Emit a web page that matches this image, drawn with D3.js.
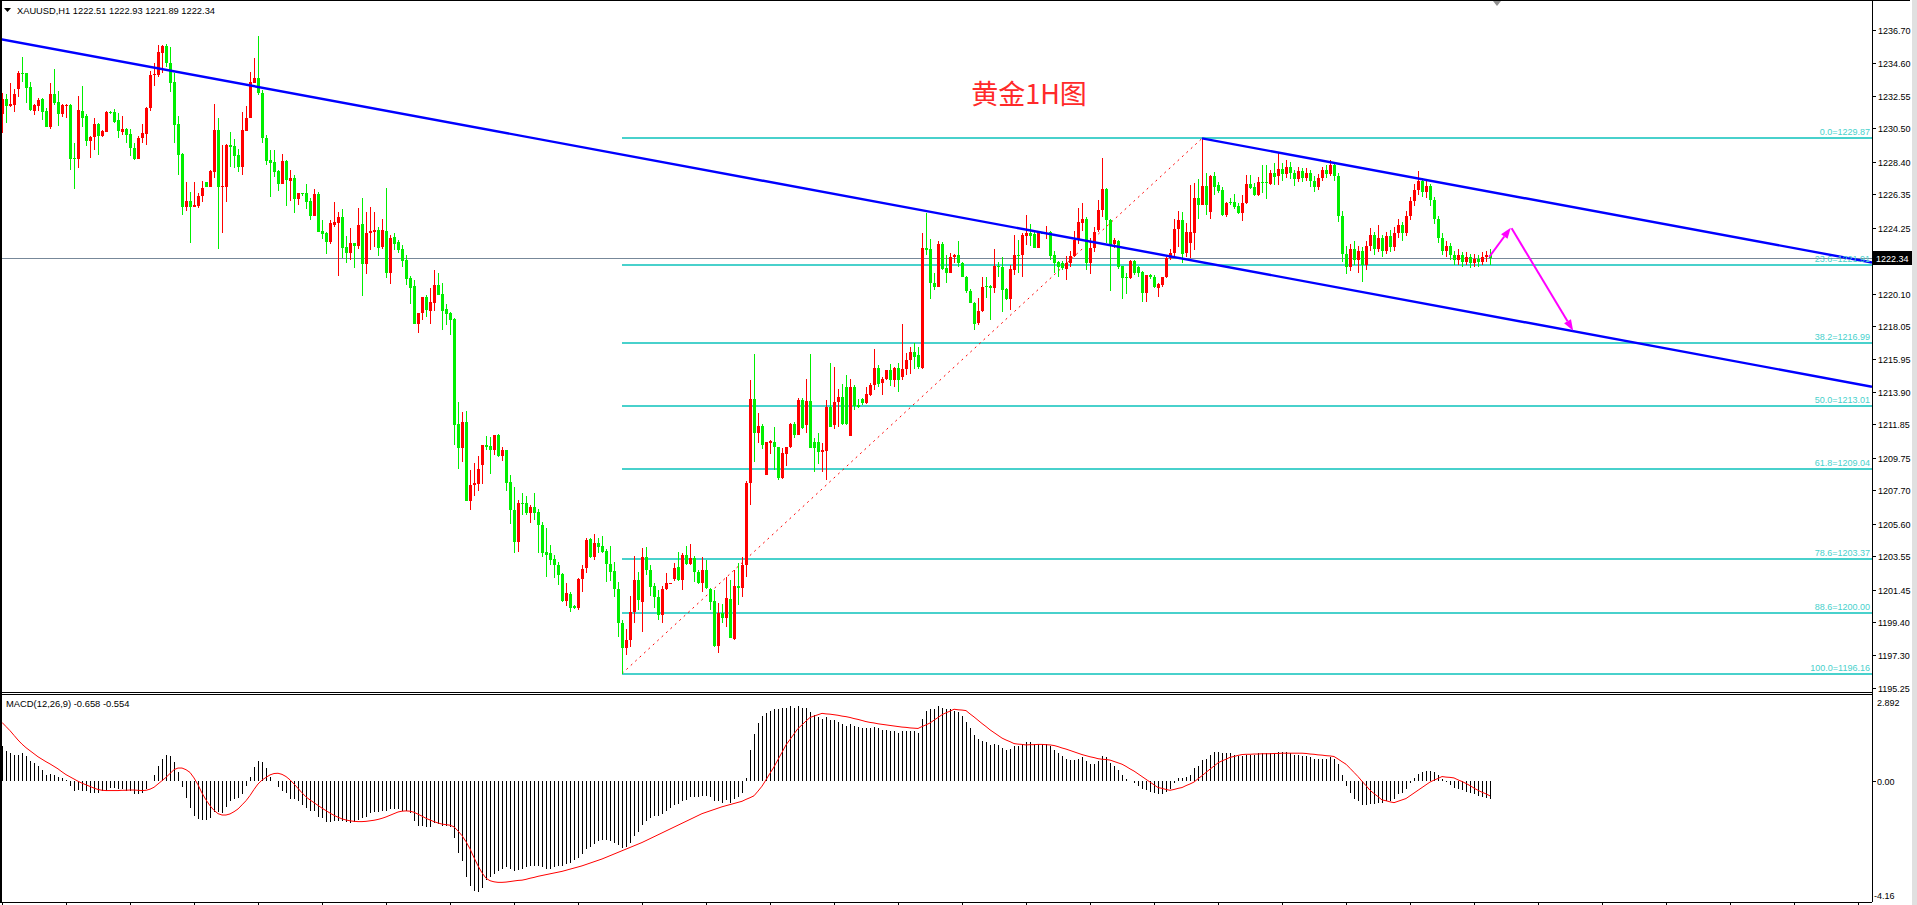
<!DOCTYPE html>
<html><head><meta charset="utf-8">
<script src="https://cdn.jsdelivr.net/npm/d3@7"></script>
<style>body{margin:0;background:#fff;overflow:hidden}svg{display:block}</style>
</head><body><svg id="c" width="1917" height="905"></svg>
<script>
// ---------- DATA ----------
const symbol = "XAUUSD,H1";
const lastOHLC = ["1222.51","1222.93","1221.89","1222.34"];
const lastPrice = 1222.34;
const title = "黄金1H图";
const macdLabel = "MACD(12,26,9) -0.658 -0.554";

const opens = [
1231.39,1232.35,1231.91,1231.98,1232.98,1234.01,1233.97,1233.11,1231.62,1231.91,
1232.33,1231.60,1230.61,1232.67,1232.16,1231.43,1231.91,1231.98,1228.64,1228.59,
1231.60,1231.28,1229.73,1229.94,1230.78,1230.02,1230.30,1231.53,1231.53,1231.03,
1230.30,1230.46,1230.15,1229.25,1228.57,1229.88,1230.15,1231.81,1233.84,1233.87,
1235.27,1235.69,1234.64,1233.40,1230.78,1228.89,1225.57,1225.93,1225.57,1225.61,
1226.26,1227.10,1226.83,1227.78,1230.40,1226.79,1226.83,1229.46,1229.39,1228.83,
1228.05,1230.34,1231.16,1233.38,1233.66,1232.71,1229.90,1228.51,1228.38,1227.82,
1227.00,1228.45,1227.21,1227.38,1226.05,1226.41,1226.45,1225.95,1225.00,1226.37,
1224.04,1223.91,1223.34,1224.44,1224.54,1224.92,1223.01,1222.67,1223.26,1223.09,
1224.48,1221.98,1223.91,1223.95,1224.10,1223.05,1224.04,1221.39,1223.64,1223.34,
1222.90,1222.21,1221.08,1220.57,1218.18,1218.85,1219.88,1219.02,1219.52,1220.64,
1220.07,1219.12,1218.87,1218.49,1211.88,1210.39,1212.00,1207.03,1208.04,1208.10,
1209.29,1210.55,1210.49,1210.24,1211.19,1209.86,1210.24,1208.22,1206.46,1204.47,
1206.92,1206.88,1206.29,1206.63,1206.33,1205.52,1203.84,1203.73,1203.35,1203.00,
1202.43,1200.75,1201.17,1200.41,1200.27,1202.09,1202.79,1204.61,1203.48,1204.40,
1204.19,1203.90,1203.06,1202.64,1201.46,1199.32,1197.75,1198.27,1200.06,1202.05,
1200.69,1203.48,1202.68,1201.67,1201.00,1199.85,1201.46,1201.84,1202.09,1202.89,
1202.05,1203.63,1203.06,1203.42,1202.58,1201.84,1202.68,1201.46,1200.75,1197.89,
1199.95,1199.63,1200.83,1198.31,1201.67,1201.53,1203.00,1208.14,1213.45,1211.33,
1211.75,1208.67,1210.70,1210.77,1210.45,1208.50,1209.99,1210.45,1211.86,1211.19,
1213.39,1211.82,1213.33,1210.77,1210.77,1210.14,1210.20,1212.93,1211.82,1213.24,
1213.60,1214.23,1211.12,1214.23,1213.07,1213.43,1213.22,1213.71,1214.34,1215.39,
1214.48,1214.69,1215.28,1214.65,1215.39,1214.82,1215.32,1215.91,1216.44,1216.22,
1215.39,1222.94,1222.88,1220.78,1220.53,1223.22,1221.69,1221.41,1222.38,1222.53,
1222.04,1221.16,1220.28,1219.52,1218.22,1219.00,1220.57,1220.57,1220.43,1221.83,
1221.79,1220.36,1219.73,1221.58,1222.53,1222.53,1223.72,1223.93,1223.85,1222.99,
1223.93,1223.85,1223.99,1222.53,1222.10,1222.04,1221.62,1222.04,1222.46,1223.47,
1224.56,1224.81,1222.00,1222.95,1224.10,1225.36,1226.66,1224.73,1223.22,1223.43,
1221.83,1221.16,1221.06,1222.17,1221.79,1221.48,1220.15,1221.27,1221.16,1220.43,
1220.64,1221.12,1222.32,1222.67,1224.14,1224.73,1222.63,1223.26,1223.93,1226.10,
1225.68,1226.87,1225.26,1227.50,1226.94,1226.62,1225.05,1225.89,1225.89,1225.61,
1225.19,1225.78,1227.00,1226.83,1226.31,1227.15,1227.15,1227.00,1227.71,1227.50,
1227.92,1227.60,1228.10,1227.70,1227.30,1227.80,1227.40,1227.70,1227.20,1226.80,
1227.40,1227.90,1227.60,1228.20,1227.50,1225.00,1222.60,1221.80,1222.90,1222.20,
1222.80,1221.90,1223.10,1223.80,1222.90,1223.60,1222.80,1223.70,1223.00,1223.90,
1224.40,1223.90,1225.00,1225.90,1226.60,1227.20,1226.50,1226.90,1226.00,1224.80,
1223.60,1222.80,1223.10,1222.50,1222.20,1222.50,1222.10,1222.40,1222.00,1222.30,
1222.10,1222.40,1222.51];

const highs = [
1232.71,1232.67,1233.38,1232.96,1234.14,1234.98,1234.01,1233.45,1232.04,1232.40,
1232.40,1231.77,1233.38,1234.24,1232.86,1232.04,1232.04,1232.04,1229.56,1232.54,
1233.17,1231.39,1230.02,1231.14,1230.82,1230.40,1231.62,1231.62,1231.70,1231.45,
1231.28,1230.55,1230.44,1229.56,1230.02,1230.76,1231.87,1234.14,1234.60,1235.76,
1235.76,1235.80,1235.61,1233.97,1231.28,1228.93,1227.15,1226.52,1227.15,1226.41,
1227.21,1227.15,1227.88,1232.04,1231.14,1229.46,1229.52,1230.30,1229.81,1229.18,
1231.56,1231.91,1234.03,1234.92,1236.32,1232.90,1230.10,1229.14,1229.14,1227.88,
1228.89,1228.51,1227.88,1227.57,1226.45,1226.45,1227.00,1226.09,1226.68,1226.47,
1224.73,1223.99,1224.73,1225.86,1225.26,1225.42,1223.72,1224.20,1223.26,1225.49,
1226.12,1225.23,1225.55,1225.23,1224.27,1224.79,1226.75,1223.76,1223.89,1223.47,
1223.16,1222.52,1221.20,1220.95,1218.85,1219.88,1220.01,1220.45,1221.58,1221.39,
1220.74,1219.44,1218.93,1218.56,1213.26,1212.63,1212.70,1208.98,1209.42,1209.86,
1210.55,1211.12,1211.06,1211.19,1211.25,1210.43,1210.24,1208.67,1207.93,1207.09,
1207.51,1207.34,1206.78,1207.51,1206.50,1205.73,1205.31,1204.26,1203.63,1203.21,
1202.47,1201.84,1201.32,1200.47,1202.16,1203.00,1204.68,1204.68,1204.95,1204.68,
1204.82,1203.98,1204.19,1203.21,1201.95,1199.53,1198.94,1201.04,1203.56,1202.58,
1204.04,1204.11,1203.00,1201.84,1201.42,1201.67,1202.47,1201.88,1203.14,1203.84,
1203.77,1204.19,1204.32,1203.56,1202.68,1203.52,1203.31,1201.53,1201.42,1200.58,
1200.54,1202.22,1202.05,1202.68,1203.10,1203.52,1208.31,1214.65,1216.29,1212.55,
1211.86,1210.77,1210.87,1211.71,1210.45,1210.35,1210.45,1211.96,1212.03,1213.50,
1213.50,1214.69,1216.29,1211.02,1211.29,1210.66,1213.39,1215.70,1215.45,1214.06,
1214.40,1214.97,1214.69,1214.34,1213.43,1213.50,1214.23,1214.48,1216.60,1215.60,
1214.86,1215.28,1215.66,1215.45,1215.74,1218.18,1216.33,1216.75,1216.96,1216.75,
1223.93,1225.19,1223.53,1221.37,1223.43,1223.37,1222.53,1222.63,1222.59,1223.41,
1222.11,1221.20,1220.36,1219.59,1219.80,1221.12,1221.12,1220.64,1222.88,1222.11,
1222.42,1220.43,1221.90,1223.79,1223.47,1223.93,1225.05,1224.48,1223.99,1223.99,
1223.99,1224.35,1224.04,1222.78,1222.17,1222.17,1222.46,1222.78,1224.04,1225.47,
1225.78,1224.90,1223.58,1224.31,1225.99,1228.62,1226.73,1224.77,1223.58,1223.47,
1221.85,1221.37,1222.21,1222.21,1221.83,1221.54,1221.27,1221.33,1221.27,1220.78,
1221.16,1222.42,1222.88,1224.77,1225.32,1225.26,1224.56,1226.93,1227.04,1227.29,
1229.87,1227.67,1227.57,1227.78,1227.15,1226.83,1225.89,1226.10,1226.37,1225.82,
1226.31,1227.57,1227.57,1227.04,1227.42,1228.20,1228.20,1227.88,1228.30,1229.04,
1228.30,1228.50,1228.40,1227.90,1228.10,1228.00,1228.00,1227.90,1227.50,1227.60,
1228.10,1228.20,1228.50,1228.40,1227.70,1225.30,1223.10,1223.20,1223.40,1223.10,
1223.00,1223.40,1224.20,1224.00,1224.40,1223.80,1224.00,1224.10,1224.30,1224.80,
1224.60,1225.30,1226.20,1227.00,1227.80,1227.40,1227.20,1227.00,1226.20,1225.00,
1223.90,1223.40,1223.30,1222.80,1222.90,1222.70,1222.70,1222.60,1222.60,1222.50,
1222.70,1222.80,1222.93];

const lows = [
1230.23,1230.86,1231.83,1231.56,1232.50,1233.45,1232.12,1231.60,1231.35,1231.60,
1231.03,1230.61,1230.48,1231.98,1230.65,1231.20,1231.18,1227.88,1226.68,1228.03,
1230.61,1229.41,1228.66,1229.14,1228.83,1229.94,1230.30,1231.39,1230.86,1229.92,
1230.06,1229.56,1228.76,1228.51,1228.57,1229.56,1229.46,1231.62,1233.17,1233.76,
1233.97,1234.39,1232.82,1229.60,1227.57,1225.04,1225.30,1223.30,1225.57,1225.47,
1225.89,1226.79,1226.79,1227.36,1222.88,1223.93,1225.89,1228.09,1228.03,1227.78,
1227.57,1230.34,1231.16,1233.34,1232.61,1229.60,1228.20,1226.20,1227.46,1226.58,
1227.00,1225.63,1225.95,1225.15,1225.68,1226.24,1225.42,1224.73,1225.00,1223.99,
1223.51,1222.59,1223.22,1224.31,1221.20,1222.32,1222.00,1222.21,1221.73,1222.92,
1219.96,1221.33,1222.84,1223.05,1222.46,1222.92,1221.10,1220.70,1222.84,1222.67,
1221.77,1220.64,1219.44,1218.18,1217.63,1218.43,1218.64,1218.18,1219.00,1220.01,
1217.80,1218.12,1217.49,1210.55,1209.04,1209.48,1207.03,1206.46,1207.34,1207.66,
1208.10,1210.24,1208.73,1209.93,1209.82,1209.55,1207.66,1205.58,1203.73,1203.84,
1206.15,1206.15,1205.66,1205.83,1203.73,1203.52,1202.26,1203.00,1202.16,1201.74,
1200.69,1200.41,1200.06,1200.20,1200.16,1201.32,1202.51,1203.42,1203.31,1203.77,
1203.73,1201.95,1202.01,1201.00,1198.48,1196.16,1197.33,1197.85,1199.32,1200.16,
1198.80,1202.37,1201.04,1200.27,1199.53,1199.36,1201.42,1201.84,1202.01,1202.01,
1201.42,1203.00,1203.00,1201.95,1201.80,1201.32,1201.46,1200.16,1197.85,1197.43,
1199.32,1199.07,1198.37,1198.27,1200.47,1200.96,1202.26,1206.78,1209.51,1210.66,
1210.28,1208.67,1210.00,1208.98,1208.35,1208.39,1209.23,1210.35,1210.98,1211.19,
1211.54,1211.29,1210.35,1208.88,1209.36,1208.88,1208.35,1211.67,1211.56,1211.71,
1211.82,1211.82,1211.12,1212.76,1212.87,1213.07,1213.14,1213.64,1214.02,1214.23,
1213.71,1214.65,1214.27,1214.23,1213.92,1214.65,1214.97,1215.03,1215.32,1215.32,
1215.32,1222.52,1219.73,1220.32,1220.49,1221.58,1220.74,1221.37,1222.04,1221.79,
1221.12,1220.15,1219.48,1217.80,1218.12,1218.96,1219.80,1218.43,1220.11,1221.16,
1218.96,1219.69,1219.06,1221.27,1221.37,1221.16,1223.16,1223.09,1222.95,1222.95,
1223.83,1223.51,1222.21,1221.37,1221.16,1221.58,1220.95,1221.79,1222.38,1223.22,
1224.06,1221.58,1221.33,1222.74,1224.00,1224.94,1223.26,1220.28,1222.95,1221.62,
1219.73,1220.07,1220.99,1221.27,1221.16,1219.59,1219.59,1220.99,1220.43,1219.90,
1220.53,1221.06,1222.21,1222.38,1223.05,1222.00,1222.38,1222.32,1222.84,1224.77,
1225.68,1225.05,1224.77,1226.31,1226.45,1224.98,1224.94,1225.68,1225.40,1225.11,
1224.69,1225.74,1226.66,1226.24,1226.24,1226.45,1226.03,1226.94,1226.94,1226.94,
1227.20,1227.40,1227.30,1226.90,1227.10,1227.10,1227.20,1226.80,1226.50,1226.60,
1227.20,1227.40,1227.50,1227.20,1224.60,1222.10,1221.30,1221.50,1221.90,1221.40,
1220.80,1221.60,1222.80,1222.50,1222.70,1222.40,1222.60,1222.70,1222.80,1223.60,
1223.40,1223.70,1224.70,1225.60,1226.30,1226.20,1226.10,1225.60,1224.50,1223.30,
1222.50,1222.40,1222.20,1221.90,1221.90,1221.80,1221.90,1221.70,1221.80,1221.80,
1221.90,1222.10,1221.89];

const closes = [
1232.35,1231.93,1232.04,1232.67,1234.01,1233.95,1233.07,1231.66,1231.98,1232.29,
1231.56,1230.61,1232.67,1232.12,1231.43,1231.98,1231.98,1228.59,1228.59,1231.66,
1231.16,1229.73,1229.98,1230.76,1230.02,1230.34,1231.53,1231.47,1230.93,1230.36,
1230.46,1230.09,1229.25,1228.57,1229.88,1230.19,1231.81,1233.87,1233.91,1235.29,
1235.69,1234.64,1233.38,1230.72,1228.83,1225.57,1225.93,1225.57,1225.68,1226.26,
1226.75,1226.83,1227.82,1230.40,1226.79,1226.89,1229.46,1229.35,1228.76,1228.05,
1230.40,1231.14,1233.40,1233.66,1232.71,1229.90,1228.45,1228.34,1227.78,1227.00,
1228.45,1227.25,1227.38,1226.05,1226.45,1226.35,1225.89,1225.00,1226.37,1223.99,
1223.85,1223.34,1224.54,1224.60,1224.92,1222.97,1222.67,1223.28,1223.09,1224.42,
1221.98,1223.91,1224.06,1224.12,1222.97,1224.10,1221.39,1223.60,1223.22,1222.84,
1222.15,1221.01,1220.47,1218.18,1218.85,1219.88,1219.06,1219.56,1220.64,1220.01,
1219.00,1218.81,1218.43,1211.82,1210.39,1212.00,1207.03,1208.04,1208.16,1209.04,
1210.55,1210.43,1210.24,1211.19,1209.86,1210.24,1208.16,1206.46,1204.47,1206.88,
1206.84,1206.29,1206.67,1206.29,1205.52,1203.77,1203.63,1203.31,1203.00,1202.37,
1200.75,1201.21,1200.27,1200.27,1202.09,1202.72,1204.57,1203.48,1204.40,1204.15,
1203.84,1203.06,1202.58,1201.46,1199.32,1197.75,1198.27,1200.06,1202.05,1200.79,
1203.48,1202.68,1201.63,1201.00,1199.85,1201.46,1201.84,1201.88,1202.79,1202.05,
1203.63,1203.06,1203.42,1202.58,1201.84,1202.68,1201.53,1200.69,1197.89,1199.95,
1199.63,1200.90,1198.37,1201.67,1201.53,1203.00,1208.14,1213.43,1211.33,1211.75,
1210.57,1210.77,1210.81,1210.45,1208.46,1210.03,1210.45,1211.86,1211.19,1213.39,
1211.61,1213.33,1210.39,1210.39,1210.14,1210.24,1212.97,1211.71,1213.24,1213.60,
1211.86,1211.88,1214.23,1213.01,1212.97,1213.22,1213.75,1214.34,1215.39,1214.40,
1214.69,1215.28,1214.65,1215.39,1214.65,1215.32,1215.91,1216.44,1216.12,1215.49,
1222.94,1222.84,1220.74,1220.53,1223.22,1221.62,1221.37,1222.38,1222.53,1222.04,
1221.16,1220.28,1219.52,1218.18,1219.00,1220.53,1220.49,1220.43,1221.83,1221.75,
1220.32,1219.73,1221.64,1222.53,1222.46,1223.79,1223.89,1223.72,1222.99,1223.93,
1223.89,1223.89,1222.46,1222.00,1221.79,1221.69,1222.04,1222.46,1223.47,1224.63,
1224.77,1222.00,1222.95,1224.00,1225.36,1226.66,1224.73,1223.16,1223.47,1221.79,
1221.06,1221.06,1222.17,1221.41,1221.41,1220.15,1221.27,1221.12,1220.49,1220.70,
1221.12,1222.32,1222.67,1224.14,1224.73,1222.59,1224.00,1224.00,1226.10,1225.68,
1226.87,1225.68,1227.50,1226.83,1226.58,1225.05,1225.78,1225.78,1225.53,1225.19,
1225.78,1227.00,1226.73,1226.31,1227.15,1227.04,1227.04,1227.71,1227.46,1227.92,
1227.60,1228.10,1227.70,1227.30,1227.80,1227.40,1227.70,1227.20,1226.80,1227.40,
1227.90,1227.60,1228.20,1227.50,1225.00,1222.60,1221.80,1222.90,1222.20,1222.80,
1221.90,1223.10,1223.80,1222.90,1223.60,1222.80,1223.70,1223.00,1223.90,1224.40,
1223.90,1225.00,1225.90,1226.60,1227.20,1226.50,1226.90,1226.00,1224.80,1223.60,
1222.80,1223.10,1222.50,1222.20,1222.50,1222.10,1222.40,1222.00,1222.30,1222.10,
1222.40,1222.51,1222.34];

const macdMain = [
1.27,1.09,0.99,0.95,0.95,0.99,0.91,0.73,0.63,0.55,
0.39,0.22,0.24,0.22,0.12,0.10,0.02,-0.18,-0.39,-0.34,
-0.36,-0.39,-0.46,-0.46,-0.46,-0.39,-0.36,-0.27,-0.27,-0.30,
-0.30,-0.36,-0.39,-0.48,-0.48,-0.46,-0.30,-0.02,0.22,0.55,
0.79,0.95,0.91,0.67,0.30,-0.24,-0.63,-0.99,-1.27,-1.39,
-1.43,-1.43,-1.36,-1.15,-1.15,-1.19,-0.95,-0.75,-0.67,-0.63,
-0.48,-0.18,0.15,0.48,0.70,0.67,0.46,0.12,-0.02,-0.22,
-0.36,-0.46,-0.67,-0.67,-0.75,-0.87,-0.99,-1.09,-1.12,-1.31,
-1.36,-1.52,-1.52,-1.48,-1.45,-1.45,-1.52,-1.55,-1.52,-1.43,
-1.36,-1.33,-1.19,-1.15,-1.15,-1.09,-1.12,-1.03,-1.03,-1.03,
-1.09,-1.12,-1.19,-1.45,-1.64,-1.64,-1.70,-1.67,-1.55,-1.58,
-1.64,-1.64,-1.67,-2.08,-2.64,-2.91,-3.49,-3.82,-4.02,-4.06,
-3.90,-3.61,-3.52,-3.39,-3.27,-3.20,-3.15,-3.20,-3.30,-3.25,
-3.20,-3.15,-3.10,-3.10,-3.10,-3.15,-3.20,-3.20,-3.15,-3.10,
-3.10,-3.05,-3.00,-2.90,-2.80,-2.65,-2.50,-2.40,-2.30,-2.20,
-2.15,-2.15,-2.20,-2.25,-2.35,-2.45,-2.40,-2.25,-2.00,-1.85,
-1.60,-1.45,-1.35,-1.30,-1.30,-1.20,-1.10,-1.00,-0.90,-0.85,
-0.75,-0.70,-0.60,-0.60,-0.60,-0.55,-0.55,-0.60,-0.75,-0.75,
-0.80,-0.70,-0.80,-0.65,-0.60,-0.45,0.10,1.10,1.70,2.10,
2.35,2.45,2.55,2.60,2.60,2.65,2.65,2.70,2.65,2.70,
2.65,2.65,2.50,2.40,2.30,2.25,2.30,2.20,2.20,2.15,
2.05,2.00,2.05,2.00,1.95,1.90,1.90,1.90,1.95,1.90,
1.85,1.85,1.80,1.80,1.75,1.80,1.80,1.80,1.80,1.75,
2.25,2.55,2.60,2.60,2.70,2.65,2.60,2.60,2.55,2.50,
2.35,2.15,1.90,1.65,1.50,1.45,1.40,1.30,1.35,1.30,
1.20,1.10,1.15,1.25,1.25,1.35,1.40,1.40,1.35,1.35,
1.35,1.35,1.25,1.10,1.00,0.90,0.80,0.75,0.75,0.80,
0.85,0.70,0.60,0.60,0.70,0.90,0.85,0.65,0.55,0.40,
0.20,0.05,0.00,-0.10,-0.20,-0.30,-0.35,-0.40,-0.45,-0.50,
-0.50,-0.40,-0.30,-0.10,0.10,0.10,0.15,0.20,0.45,0.55,
0.75,0.80,0.95,1.05,1.05,1.00,1.00,1.00,0.95,0.90,
0.90,0.95,0.95,0.95,1.00,1.00,1.00,1.00,1.00,1.05,
1.05,1.05,1.00,0.95,0.95,0.90,0.90,0.85,0.80,0.80,
0.80,0.80,0.85,0.80,0.60,0.20,-0.20,-0.45,-0.65,-0.75,
-0.90,-0.90,-0.85,-0.85,-0.80,-0.80,-0.75,-0.75,-0.65,-0.50,
-0.45,-0.30,-0.10,0.10,0.25,0.30,0.35,0.35,0.30,0.20,
0.05,-0.05,-0.15,-0.25,-0.30,-0.35,-0.40,-0.45,-0.50,-0.55,
-0.60,-0.63,-0.658];

const macdSignal = [
2.12,1.97,1.82,1.65,1.48,1.33,1.20,1.09,0.98,0.87,
0.78,0.69,0.61,0.52,0.43,0.32,0.22,0.14,0.06,-0.02,
-0.09,-0.15,-0.21,-0.27,-0.32,-0.35,-0.36,-0.36,-0.36,-0.36,
-0.35,-0.35,-0.34,-0.34,-0.35,-0.36,-0.35,-0.31,-0.24,-0.12,
0.00,0.12,0.26,0.40,0.46,0.46,0.40,0.30,0.10,-0.15,
-0.45,-0.70,-0.91,-1.08,-1.20,-1.25,-1.25,-1.21,-1.13,-1.03,
-0.88,-0.73,-0.54,-0.32,-0.12,0.02,0.12,0.21,0.26,0.27,
0.23,0.15,0.03,-0.12,-0.28,-0.44,-0.59,-0.70,-0.80,-0.90,
-1.00,-1.09,-1.18,-1.26,-1.33,-1.39,-1.43,-1.46,-1.48,-1.49,
-1.49,-1.48,-1.46,-1.44,-1.41,-1.37,-1.32,-1.26,-1.20,-1.14,
-1.11,-1.10,-1.11,-1.15,-1.22,-1.29,-1.37,-1.43,-1.49,-1.54,
-1.58,-1.60,-1.62,-1.68,-1.83,-2.00,-2.22,-2.48,-2.80,-3.10,
-3.35,-3.55,-3.64,-3.68,-3.70,-3.70,-3.69,-3.67,-3.65,-3.63,
-3.62,-3.59,-3.55,-3.52,-3.48,-3.45,-3.42,-3.39,-3.36,-3.33,
-3.30,-3.26,-3.22,-3.18,-3.14,-3.10,-3.05,-3.00,-2.95,-2.90,
-2.85,-2.79,-2.73,-2.67,-2.61,-2.55,-2.49,-2.43,-2.37,-2.31,
-2.25,-2.18,-2.11,-2.04,-1.97,-1.90,-1.83,-1.76,-1.69,-1.62,
-1.55,-1.48,-1.41,-1.34,-1.27,-1.20,-1.15,-1.10,-1.05,-1.00,
-0.95,-0.91,-0.87,-0.83,-0.79,-0.75,-0.68,-0.62,-0.55,-0.38,
-0.20,0.03,0.27,0.50,0.77,1.03,1.30,1.50,1.70,1.90,
2.03,2.17,2.30,2.35,2.40,2.45,2.43,2.42,2.40,2.38,
2.35,2.33,2.30,2.26,2.23,2.19,2.15,2.12,2.10,2.07,
2.05,2.03,2.01,1.99,1.97,1.95,1.94,1.92,1.91,1.90,
1.97,2.03,2.10,2.20,2.30,2.40,2.47,2.53,2.60,2.58,
2.57,2.55,2.43,2.32,2.20,2.08,1.97,1.85,1.75,1.65,
1.55,1.48,1.42,1.35,1.33,1.32,1.30,1.31,1.31,1.32,
1.32,1.31,1.30,1.28,1.24,1.19,1.15,1.10,1.05,1.00,
0.95,0.91,0.87,0.84,0.80,0.78,0.77,0.75,0.70,0.65,
0.60,0.52,0.43,0.35,0.25,0.15,0.05,-0.05,-0.15,-0.25,
-0.28,-0.32,-0.35,-0.32,-0.28,-0.25,-0.18,-0.12,-0.05,0.07,
0.18,0.30,0.42,0.53,0.65,0.72,0.78,0.85,0.88,0.92,
0.95,0.96,0.96,0.97,0.97,0.98,0.98,0.98,0.99,0.99,
1.00,1.00,1.00,1.00,1.00,1.00,0.99,0.97,0.96,0.94,
0.93,0.91,0.90,0.88,0.79,0.69,0.60,0.45,0.30,0.15,
-0.02,-0.18,-0.35,-0.47,-0.58,-0.70,-0.73,-0.77,-0.80,-0.75,
-0.70,-0.65,-0.55,-0.45,-0.35,-0.25,-0.15,-0.05,0.02,0.08,
0.15,0.13,0.12,0.10,0.03,-0.03,-0.10,-0.18,-0.27,-0.35,
-0.42,-0.48,-0.554];

const priceTicks = [1236.70,1234.60,1232.55,1230.50,1228.40,1226.35,1224.25,1220.10,1218.05,1215.95,1213.90,1211.85,1209.75,1207.70,1205.60,1203.55,1201.45,1199.40,1197.30,1195.25];
const macdTicks = [{v:2.892,t:"2.892"},{v:0,t:"0.00"},{v:-4.16,t:"-4.16"}];

// Fibonacci retracement: anchors (bar index, price) and levels
const fibAnchorLow = {i:155, p:1196.16};
const fibAnchorHigh = {i:300, p:1229.87};
const fibLevels = ["0.0","23.6","38.2","50.0","61.8","78.6","88.6","100.0"];
const fibPrices = [1229.87,1221.91,1216.99,1213.01,1209.04,1203.37,1200.00,1196.16];

// Trend lines (bar index, price)
const trendLines = [
  {i1:-0.5, p1:1236.13, i2:467.5, p2:1214.23},
  {i1:300, p1:1229.87, i2:467.5, p2:1222.05}
];
// Forecast arrows (bar index, price)
const arrows = [
  {i1:371.8, p1:1222.40, i2:377.2, p2:1224.25},
  {i1:377.4, p1:1224.21, i2:392.8, p2:1217.76}
];

// ---------- LAYOUT ----------
const svg = d3.select("#c");
const plotL = 1, plotR = 1872, mainTop = 0, mainBot = 692, macdTop = 694, macdBot = 902;
const x = d3.scaleLinear().domain([0, 1]).range([2, 6]);
const y = d3.scaleLinear().domain([1195.25, 1236.70]).range([688, 30]);
const ym = d3.scaleLinear().domain([-4.16, 2.892]).range([895, 701.2]);
const font = "'Liberation Sans', Arial, sans-serif";

svg.append("rect").attr("width",1917).attr("height",905).attr("fill","#fff");

const defs = svg.append("defs");
defs.append("clipPath").attr("id","mainClip").append("rect")
  .attr("x",plotL).attr("y",mainTop).attr("width",plotR-plotL).attr("height",mainBot-mainTop);

const main = svg.append("g").attr("clip-path","url(#mainClip)");

// fib lines
const fib = main.append("g").attr("shape-rendering","crispEdges");
fibPrices.forEach((p,k)=>{
  fib.append("line").attr("x1",x(fibAnchorLow.i)).attr("x2",plotR)
    .attr("y1",Math.round(y(p))).attr("y2",Math.round(y(p)))
    .attr("stroke","#48D1CC").attr("stroke-width",2);
});
// fib dashed diagonal
main.append("line")
  .attr("x1",x(fibAnchorLow.i)).attr("y1",y(fibAnchorLow.p))
  .attr("x2",x(fibAnchorHigh.i)).attr("y2",y(fibAnchorHigh.p))
  .attr("stroke","#ff0000").attr("stroke-width",1).attr("stroke-dasharray","2,4");

// current price line
main.append("line").attr("x1",0).attr("x2",plotR)
  .attr("y1",Math.round(y(lastPrice))+0.5).attr("y2",Math.round(y(lastPrice))+0.5)
  .attr("stroke","#778899").attr("stroke-width",1);

// candles
const cg = main.append("g").attr("shape-rendering","crispEdges");
opens.forEach((o,i)=>{
  const c = closes[i], h = Math.max(highs[i],o,c), l = Math.min(lows[i],o,c);
  const col = c >= o ? "#ff0000" : "#00ee00";
  const cx = Math.round(x(i));
  cg.append("rect").attr("x",cx).attr("y",y(h)).attr("width",1)
    .attr("height",Math.max(1,y(l)-y(h))).attr("fill",col);
  const bt = y(Math.max(o,c)), bb = y(Math.min(o,c));
  cg.append("rect").attr("x",cx-1).attr("y",bt).attr("width",3)
    .attr("height",Math.max(1,bb-bt)).attr("fill",col);
});

// trend lines
trendLines.forEach(t=>{
  main.append("line").attr("x1",x(t.i1)).attr("y1",y(t.p1))
    .attr("x2",x(t.i2)).attr("y2",y(t.p2))
    .attr("stroke","#0000ff").attr("stroke-width",2.4);
});

// arrows
arrows.forEach(a=>{
  const x1=x(a.i1), y1=y(a.p1), x2=x(a.i2), y2=y(a.p2);
  const ang = Math.atan2(y2-y1, x2-x1), L=11, Wd=4;
  const bx = x2 - L*Math.cos(ang), by = y2 - L*Math.sin(ang);
  main.append("line").attr("x1",x1).attr("y1",y1).attr("x2",bx).attr("y2",by)
    .attr("stroke","#ff00ff").attr("stroke-width",2);
  const px = -Math.sin(ang)*Wd, py = Math.cos(ang)*Wd;
  main.append("polygon").attr("points",
    `${x2},${y2} ${bx+px},${by+py} ${bx-px},${by-py}`).attr("fill","#ff00ff");
});

// title
svg.append("text").attr("x",1029).attr("y",104).attr("text-anchor","middle")
  .attr("font-family","'Noto Sans CJK SC', sans-serif").attr("font-size",27)
  .attr("fill","#ff2a2a").text(title);

// header
svg.append("path").attr("d","M4,8 L11,8 L7.5,12 Z").attr("fill","#000");
svg.append("text").attr("x",17).attr("y",14).attr("font-family",font).attr("font-size",9.3)
  .attr("fill","#000").text(symbol + "  " + lastOHLC.join(" "));

// fib labels
fibPrices.forEach((p,k)=>{
  svg.append("text").attr("x",plotR-2).attr("y",Math.round(y(p))-3)
    .attr("text-anchor","end").attr("font-family",font).attr("font-size",9)
    .attr("fill","#48D1CC").text(fibLevels[k]+"="+p.toFixed(2));
});

// MACD panel
const mg = svg.append("g").attr("shape-rendering","crispEdges");
macdMain.forEach((v,i)=>{
  const cx = Math.round(x(i))+0.5;
  mg.append("line").attr("x1",cx).attr("x2",cx)
    .attr("y1",Math.round(ym(0))).attr("y2",ym(v))
    .attr("stroke","#000").attr("stroke-width",1);
});
svg.append("path").datum(macdSignal)
  .attr("d", d3.line().x((d,i)=>x(i)).y(d=>ym(d)).curve(d3.curveLinear))
  .attr("fill","none").attr("stroke","#ff0000").attr("stroke-width",1);
svg.append("text").attr("x",6).attr("y",707).attr("font-family",font).attr("font-size",9.4)
  .attr("fill","#000").text(macdLabel);

// frames
const fr = svg.append("g").attr("stroke","#000").attr("shape-rendering","crispEdges");
fr.append("line").attr("x1",0.5).attr("x2",0.5).attr("y1",0).attr("y2",macdBot).attr("stroke-width",2);
fr.append("line").attr("x1",plotR+0.5).attr("x2",plotR+0.5).attr("y1",0).attr("y2",macdBot);
fr.append("line").attr("x1",0).attr("x2",plotR).attr("y1",mainBot+0.5).attr("y2",mainBot+0.5);
fr.append("line").attr("x1",0).attr("x2",plotR).attr("y1",macdTop+0.5).attr("y2",macdTop+0.5);
fr.append("line").attr("x1",0).attr("x2",plotR).attr("y1",macdBot+0.5).attr("y2",macdBot+0.5);
fr.append("line").attr("x1",0).attr("x2",1910).attr("y1",0.5).attr("y2",0.5);

// time ticks
d3.range(0, 470, 16).forEach(i=>{
  const xx = Math.round(x(i))+0.5;
  if (xx < plotR) fr.append("line").attr("x1",xx).attr("x2",xx).attr("y1",macdBot).attr("y2",905);
});

// price axis
const ax = svg.append("g");
priceTicks.forEach(p=>{
  const yy = Math.round(y(p))+0.5;
  ax.append("line").attr("x1",plotR).attr("x2",plotR+4).attr("y1",yy).attr("y2",yy)
    .attr("stroke","#000").attr("shape-rendering","crispEdges");
  ax.append("text").attr("x",1878).attr("y",yy+3.5).attr("font-family",font).attr("font-size",9)
    .attr("fill","#000").text(p.toFixed(2));
});
macdTicks.forEach(t=>{
  const yy = Math.round(ym(t.v))+0.5;
  if (t.v===0) ax.append("line").attr("x1",plotR).attr("x2",plotR+4).attr("y1",yy).attr("y2",yy)
    .attr("stroke","#000").attr("shape-rendering","crispEdges");
  ax.append("text").attr("x",t.v<0?1874:1877).attr("y",yy+(t.v>2?4:3.5)).attr("font-family",font)
    .attr("font-size",9).attr("fill","#000").text(t.t);
});
// last price tag
const ly = Math.round(y(lastPrice));
ax.append("rect").attr("x",plotR+1).attr("y",ly-7).attr("width",39).attr("height",14).attr("fill","#000");
ax.append("text").attr("x",1876).attr("y",ly+3.5).attr("font-family",font).attr("font-size",9)
  .attr("fill","#fff").text(lastPrice.toFixed(2));

// window edge and shift marker
svg.append("rect").attr("x",1912).attr("y",0).attr("width",5).attr("height",905).attr("fill","#e0e0e0");
svg.append("path").attr("d","M1493,1 L1501,1 L1497,6 Z").attr("fill","#909090");
</script></body></html>
